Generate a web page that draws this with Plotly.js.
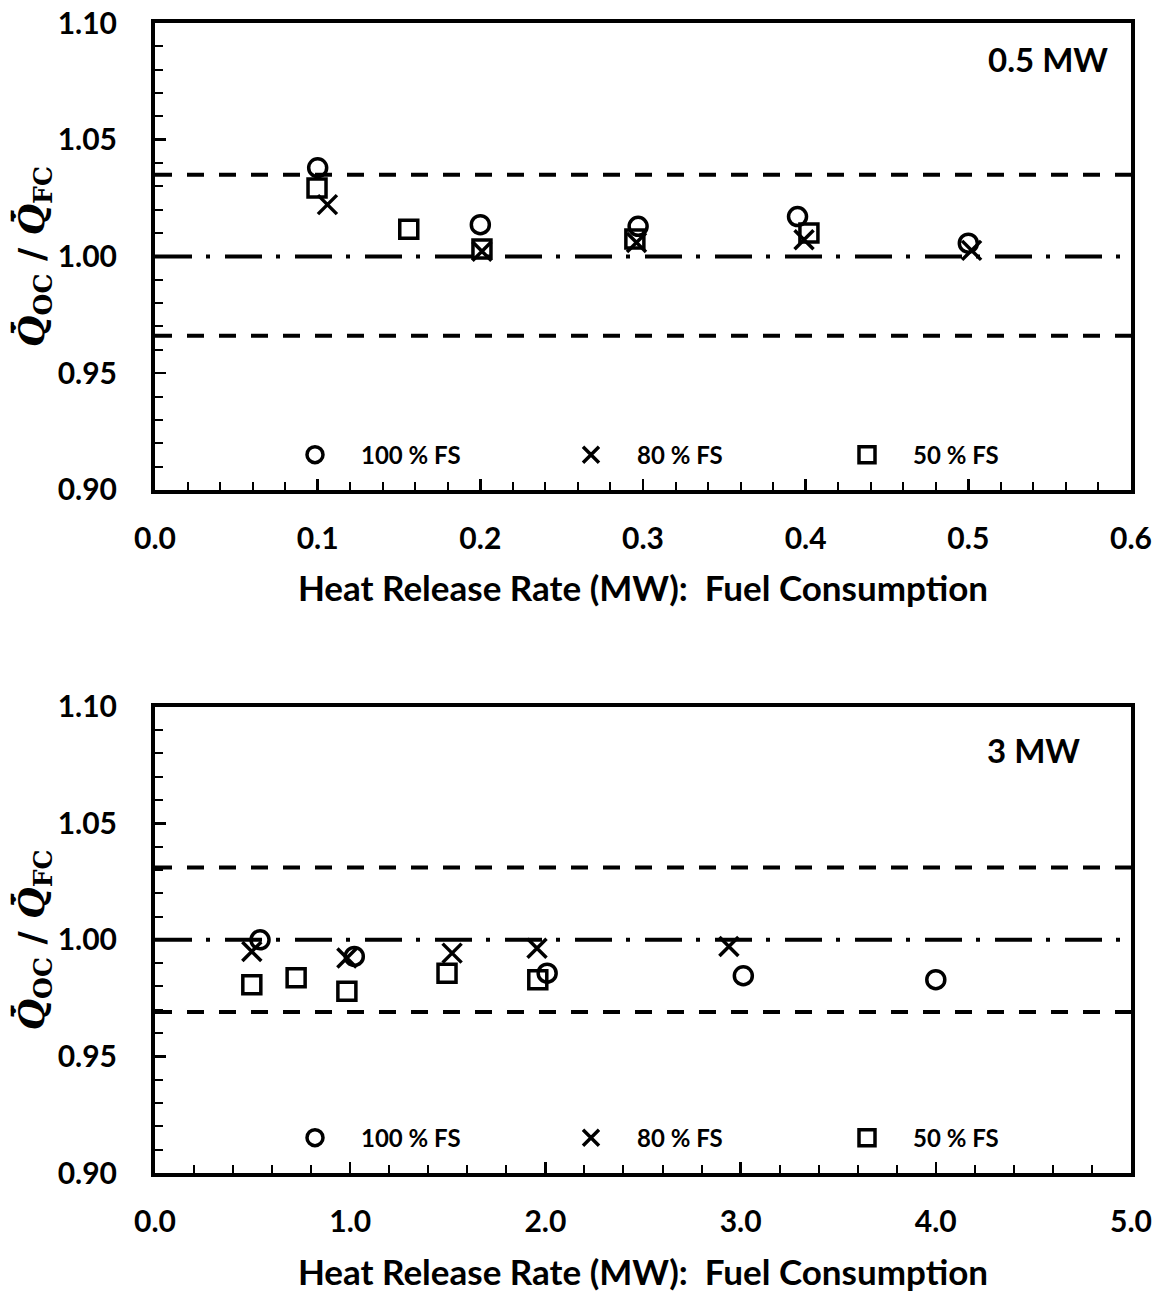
<!DOCTYPE html>
<html>
<head>
<meta charset="utf-8">
<script src="https://cdn.plot.ly/plotly-3.0.1.min.js"></script>
<style>
  html, body { margin: 0; padding: 0; background: #fff; }
  #chart { width: 1161px; height: 1295px; }
</style>
</head>
<body>
<div id="chart"></div>
<script>
// ---- 0.5 MW burner: ratio of oxygen-consumption HRR to fuel-consumption HRR ----
const small_fs100_x = [0.100, 0.200, 0.297, 0.395, 0.500];
const small_fs100_y = [1.0380, 1.0136, 1.0129, 1.0171, 1.0057];
const small_fs80_x  = [0.106, 0.201, 0.296, 0.399, 0.502];
const small_fs80_y  = [1.0222, 1.0022, 1.0060, 1.0072, 1.0026];
const small_fs50_x  = [0.0996, 0.156, 0.201, 0.295, 0.402];
const small_fs50_y  = [1.0293, 1.0117, 1.0032, 1.0075, 1.0100];
const small_band    = [1.035, 0.966];   // uncertainty limits

// ---- 3 MW burner ----
const large_fs100_x = [0.538, 1.021, 2.009, 3.014, 4.000];
const large_fs100_y = [1.0000, 0.9929, 0.9857, 0.9846, 0.9829];
const large_fs80_x  = [0.496, 0.983, 1.522, 1.957, 2.940];
const large_fs80_y  = [0.9950, 0.9922, 0.9943, 0.9964, 0.9971];
const large_fs50_x  = [0.496, 0.723, 0.983, 1.496, 1.961];
const large_fs50_y  = [0.9807, 0.9837, 0.9779, 0.9857, 0.9829];
const large_band    = [1.031, 0.969];

const seriesNames = ['100 % FS', '80 % FS', '50 % FS'];
const panelLabels = ['0.5 MW', '3 MW'];
const xTitle = 'Heat Release Rate (MW):  Fuel Consumption';
const yTitle = '<i>Q\u0307\u0304</i><sub>OC</sub> / <i>Q\u0307\u0304</i><sub>FC</sub>';

const FONT = 'Lato, "Open Sans", sans-serif';
const symbols = [
  {symbol: 'circle-open', size: 18, line: {width: 3.5, color: '#000'}, color: '#000'},
  {symbol: 'x-thin', size: 19, line: {width: 3.5, color: '#000'}, color: '#000'},
  {symbol: 'square-open', size: 18, line: {width: 3.5, color: '#000'}, color: '#000'}
];

function series(xs, ys, k, xa, ya, leg) {
  return {
    type: 'scatter', mode: 'markers', x: xs, y: ys, name: seriesNames[k],
    xaxis: xa, yaxis: ya, legend: leg, marker: symbols[k], cliponaxis: false,
    hoverinfo: 'x+y'
  };
}

const data = [
  series(small_fs100_x, small_fs100_y, 0, 'x', 'y', 'legend'),
  series(small_fs80_x,  small_fs80_y,  1, 'x', 'y', 'legend'),
  series(small_fs50_x,  small_fs50_y,  2, 'x', 'y', 'legend'),
  series(large_fs100_x, large_fs100_y, 0, 'x2', 'y2', 'legend2'),
  series(large_fs80_x,  large_fs80_y,  1, 'x2', 'y2', 'legend2'),
  series(large_fs50_x,  large_fs50_y,  2, 'x2', 'y2', 'legend2')
];

function hline(yval, ax, dash) {
  return {
    type: 'line', layer: 'below', xref: ax.x + ' domain', yref: ax.y,
    x0: 0, x1: 1, y0: yval, y1: yval,
    line: {color: '#000', width: 4, dash: dash}
  };
}
const DASH = '17px,15px';
const DASHDOT = '37px,14px,4px,15px';
const upperAxes = {x: 'x', y: 'y'}, lowerAxes = {x: 'x2', y: 'y2'};

const shapes = [
  hline(small_band[0], upperAxes, DASH), hline(small_band[1], upperAxes, DASH), hline(1.0, upperAxes, DASHDOT),
  hline(large_band[0], lowerAxes, DASH), hline(large_band[1], lowerAxes, DASH), hline(1.0, lowerAxes, DASHDOT)
];

const tickFont = {family: FONT, size: 30, color: '#000', weight: 700};

function xAxis(range, dtick, minor, anchor) {
  return {
    anchor: anchor, range: range, dtick: dtick, tick0: 0, tickformat: '.1f',
    showgrid: false, zeroline: false, showline: true, linewidth: 4, linecolor: '#000', mirror: true,
    ticks: 'inside', ticklen: 11, tickwidth: 2.5, tickcolor: '#000',
    minor: {dtick: minor, ticks: 'inside', ticklen: 8, tickwidth: 2, tickcolor: '#000', showgrid: false},
    ticklabelstandoff: 19, tickfont: tickFont,
    title: {text: xTitle, font: {family: FONT, size: 35, color: '#000', weight: 700}, standoff: 24}
  };
}
function yAxis(domain, anchor) {
  return {
    anchor: anchor, domain: domain, range: [0.9, 1.1], dtick: 0.05, tick0: 0.9, tickformat: '.2f',
    showgrid: false, zeroline: false, showline: true, linewidth: 4, linecolor: '#000', mirror: true,
    ticks: 'inside', ticklen: 11, tickwidth: 2.5, tickcolor: '#000',
    minor: {dtick: 0.01, ticks: 'inside', ticklen: 8, tickwidth: 2, tickcolor: '#000', showgrid: false},
    ticklabelstandoff: 28, tickfont: tickFont,
    title: {text: yTitle, font: {family: '"DejaVu Serif", serif', size: 36, color: '#000', weight: 700}, standoff: 2}
  };
}

function legendAt(y) {
  return {
    orientation: 'h', x: 0.1168, xanchor: 'left', y: y, yanchor: 'middle',
    bgcolor: 'rgba(0,0,0,0)', borderwidth: 0, traceorder: 'normal',
    entrywidth: 179, entrywidthmode: 'pixels', itemwidth: 82,
    font: {family: FONT, size: 24, color: '#000', weight: 700}
  };
}

const labelFont = {family: FONT, size: 33, color: '#000', weight: 700};

const layout = {
  width: 1161, height: 1295,
  margin: {l: 155, r: 30, t: 23, b: 122},
  paper_bgcolor: '#fff', plot_bgcolor: '#fff',
  showlegend: true,
  xaxis: xAxis([0, 0.6], 0.1, 0.02, 'y'),
  yaxis: yAxis([0.594, 1.0], 'x'),
  xaxis2: xAxis([0, 5], 1, 0.2, 'y2'),
  yaxis2: yAxis([0, 0.4055], 'x2'),
  legend: legendAt(0.6243),
  legend2: legendAt(0.0304),
  shapes: shapes,
  annotations: [
    {text: panelLabels[0], xref: 'x domain', yref: 'y domain', x: 0.9785, y: 0.922,
     xanchor: 'right', yanchor: 'middle', showarrow: false, font: labelFont},
    {text: panelLabels[1], xref: 'x2 domain', yref: 'y2 domain', x: 0.950, y: 0.907,
     xanchor: 'right', yanchor: 'middle', showarrow: false, font: labelFont}
  ]
};

Plotly.newPlot('chart', data, layout, {displayModeBar: false, staticPlot: true});
</script>
</body>
</html>
